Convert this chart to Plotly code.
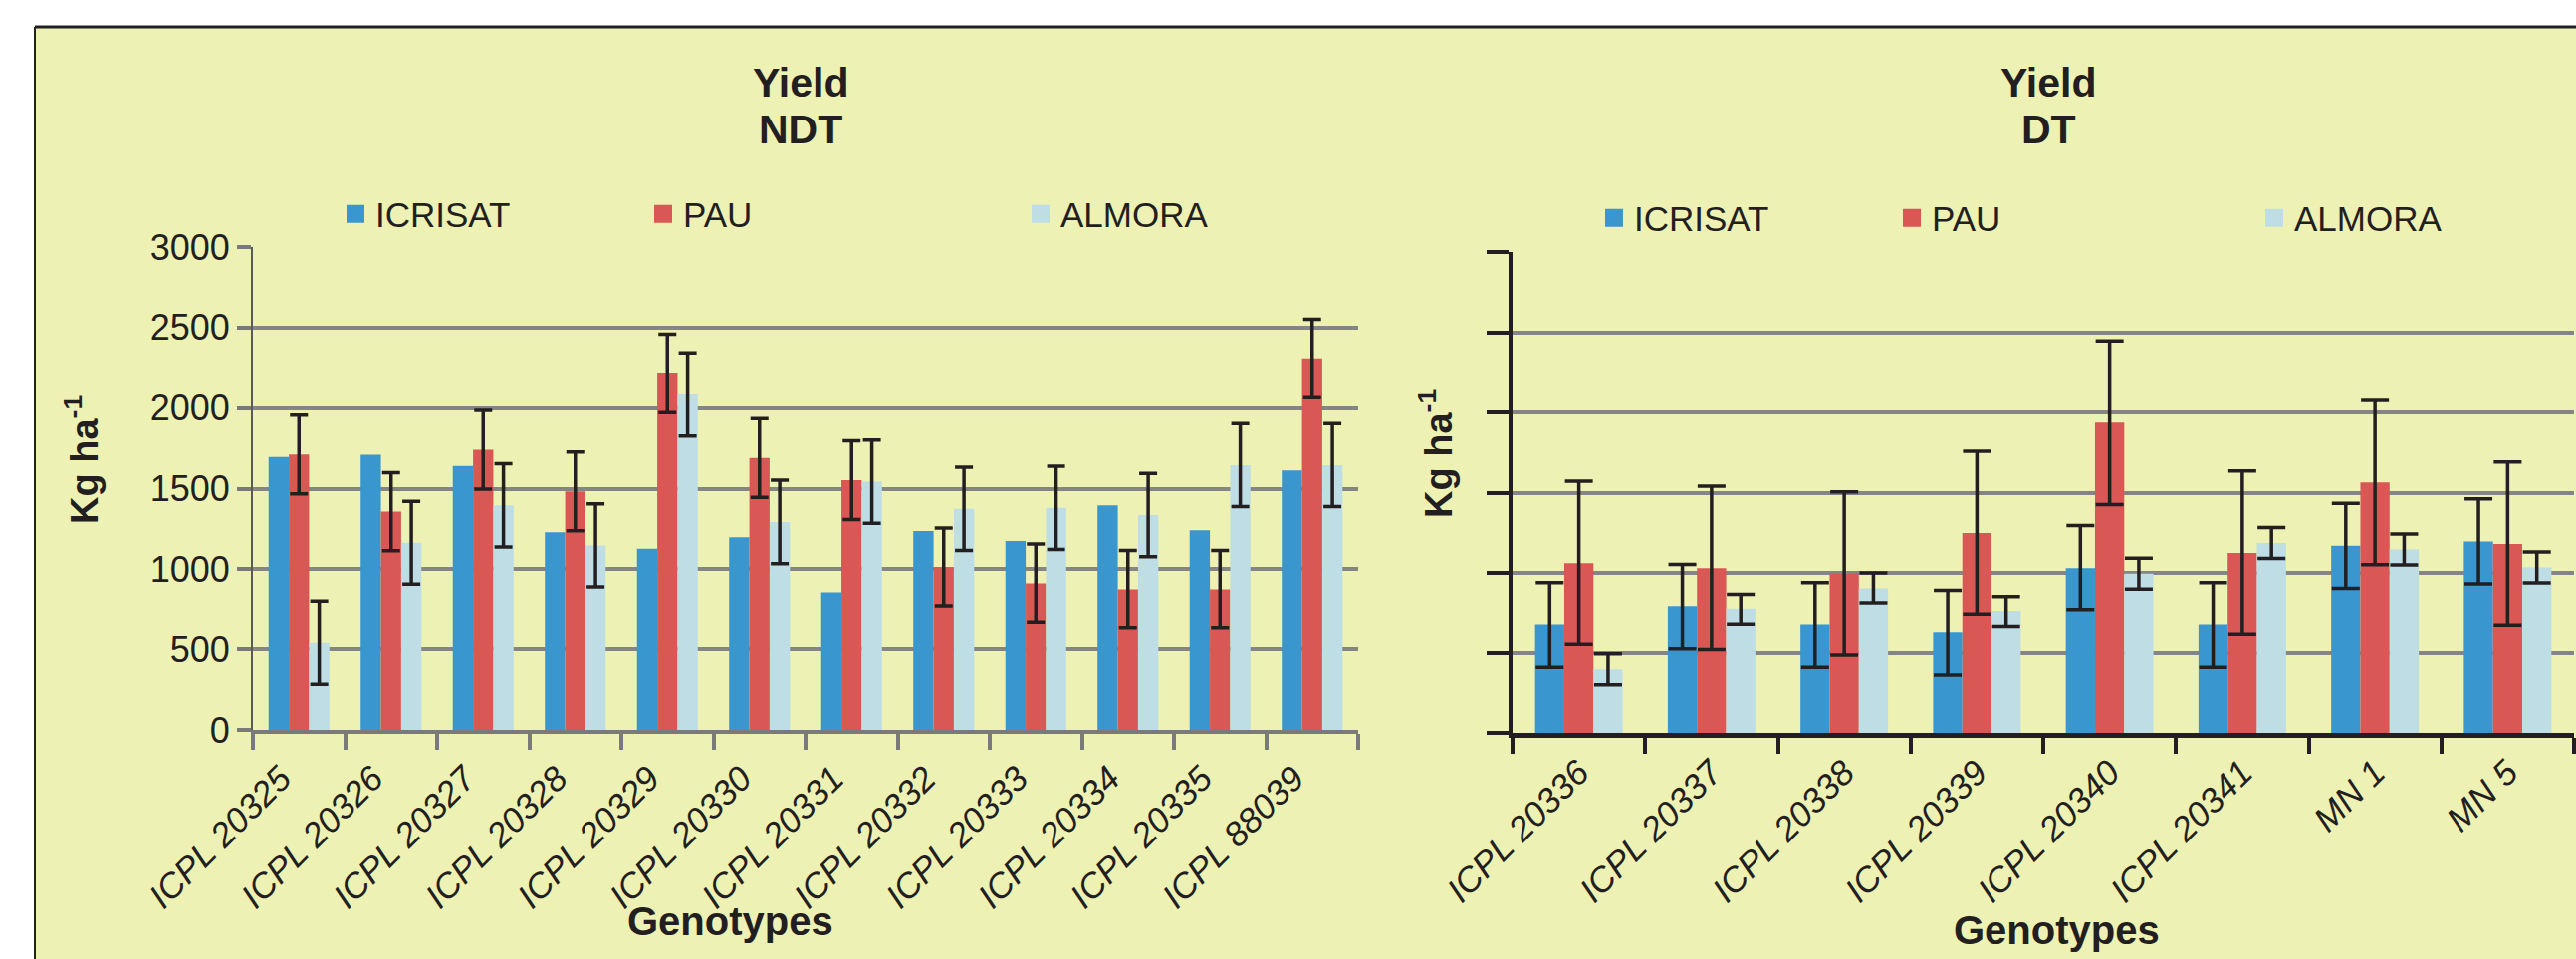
import numpy as np
import plotly.graph_objects as go

W, H = 2587, 963

# ---------------- data ----------------
series_names = ["ICRISAT", "PAU", "ALMORA"]

ndt_genotypes = ["ICPL 20325", "ICPL 20326", "ICPL 20327", "ICPL 20328", "ICPL 20329", "ICPL 20330",
                 "ICPL 20331", "ICPL 20332", "ICPL 20333", "ICPL 20334", "ICPL 20335", "ICPL 88039"]
ndt_icrisat = [1696, 1710, 1640, 1230, 1127, 1199, 856, 1237, 1175, 1396, 1241, 1613]
ndt_pau = [1712, 1357, 1741, 1483, 2215, 1690, 1553, 1011, 912, 875, 875, 2308]
ndt_almora = [540, 1164, 1396, 1148, 2085, 1293, 1543, 1375, 1381, 1336, 1646, 1646]
ndt_pau_err = [244, 242, 244, 244, 244, 244, 244, 244, 245, 242, 242, 244]
ndt_almora_err = [257, 257, 258, 258, 258, 259, 258, 258, 258, 258, 258, 258]

dt_genotypes = ["ICPL 20336", "ICPL 20337", "ICPL 20338", "ICPL 20339", "ICPL 20340", "ICPL 20341",
                "MN 1", "MN 5"]
dt_icrisat = [674, 788, 674, 626, 1030, 674, 1169, 1196]
dt_pau = [1061, 1030, 995, 1248, 1936, 1124, 1563, 1180]
dt_almora = [396, 771, 904, 757, 995, 1186, 1146, 1034]
dt_icrisat_err = [265, 265, 266, 265, 265, 265, 265, 265]
dt_pau_err = [510, 511, 510, 510, 510, 511, 511, 511]
dt_almora_err = [96, 96, 96, 96, 96, 96, 96, 96]

y_ticks = [0, 500, 1000, 1500, 2000, 2500, 3000]

# ---------------- style ----------------
BG = "#EDF1B3"
COLORS = ["#3A96CE", "#D95755", "#BEDDE4"]
FONT = "Arial, Liberation Sans, sans-serif"
INK = "#231F20"
GRID = "#858585"

fig = go.Figure()


def err(vals, halfcap):
    if vals is None:
        return None
    return dict(type="data", array=vals, visible=True, color=INK, thickness=3.5, width=halfcap)


left = [(ndt_icrisat, None), (ndt_pau, ndt_pau_err), (ndt_almora, ndt_almora_err)]
for (vals, e), c, n in zip(left, COLORS, series_names):
    fig.add_trace(go.Bar(x=ndt_genotypes, y=vals, name=n, marker=dict(color=c, line=dict(width=0)),
                         error_y=err(e, 9), xaxis="x", yaxis="y", showlegend=False))

right = [(dt_icrisat, dt_icrisat_err), (dt_pau, dt_pau_err), (dt_almora, dt_almora_err)]
for (vals, e), c, n in zip(right, COLORS, series_names):
    fig.add_trace(go.Bar(x=dt_genotypes, y=vals, name=n, marker=dict(color=c, line=dict(width=0)),
                         error_y=err(e, 14), xaxis="x2", yaxis="y2", showlegend=False))

# legend proxies (each entry in its own legend so it can be placed like the original)
legend_ids = ["legend", "legend2", "legend3", "legend4", "legend5", "legend6"]
for i, lid in enumerate(legend_ids):
    c = COLORS[i % 3]
    fig.add_trace(go.Scatter(x=[None], y=[None], mode="markers", name=series_names[i % 3],
                             marker=dict(symbol="square", size=16, color=c, line=dict(width=2, color=c)),
                             legend=lid, xaxis="x" if i < 3 else "x2", yaxis="y" if i < 3 else "y2",
                             hoverinfo="skip"))

legend_px = [(357, 215), (666, 215), (1045, 215), (1621, 219), (1920, 219), (2284, 219)]
for lid, (px, py) in zip(legend_ids, legend_px):
    fig.update_layout({lid: dict(x=(px - 20) / W, y=(H - py) / H, xanchor="left", yanchor="middle",
                                 orientation="h", bgcolor="rgba(0,0,0,0)", borderwidth=0,
                                 font=dict(family=FONT, size=35, color=INK))})

x_common = dict(type="category", tickson="boundaries", ticks="outside", ticklen=16, tickwidth=4,
                tickangle=-45, showgrid=False, zeroline=False, automargin=False,
                tickfont=dict(family=FONT, size=35, color=INK, style="italic"))
y_common = dict(range=[0, 3000], tickvals=y_ticks, showgrid=True, gridcolor=GRID, gridwidth=4,
                zeroline=False, ticks="outside", tickwidth=4, automargin=False)

fig.update_layout(
    width=W, height=H, autosize=False,
    margin=dict(l=0, r=0, t=0, b=0, pad=0, autoexpand=False),
    paper_bgcolor="white", plot_bgcolor="rgba(0,0,0,0)",
    barmode="group", bargap=0.34, bargroupgap=0,
    font=dict(family=FONT, color=INK),
    xaxis=dict(domain=[254 / W, 1364 / W], anchor="y", tickcolor="#7a7a7a",
               showline=True, linecolor="#7a7a7a", linewidth=4,
               ticklabelstandoff=10, ticklabelshift=-18, **x_common),
    yaxis=dict(domain=[(H - 733) / H, (H - 248) / H], anchor="x", ticklen=14, tickcolor="#7a7a7a",
               showline=True, linecolor="#5a5a5a", linewidth=2, showticklabels=True,
               tickfont=dict(family=FONT, size=36, color=INK), **y_common),
    xaxis2=dict(domain=[1519 / W, 2585 / W], anchor="y2", tickcolor=INK,
                showline=True, linecolor=INK, linewidth=5, **x_common),
    yaxis2=dict(domain=[(H - 736) / H, (H - 253) / H], anchor="x2", ticklen=22, tickcolor=INK,
                showline=True, linecolor=INK, linewidth=4, showticklabels=False, **y_common),
    xaxis3=dict(overlaying="x", anchor="y", range=[-0.5, len(ndt_genotypes) - 0.5],
                tickvals=list(np.arange(len(ndt_genotypes) + 1) - 0.5), ticks="inside", ticklen=16,
                tickwidth=4, tickcolor="#7a7a7a", showticklabels=False, showgrid=False,
                zeroline=False, showline=False, automargin=False),
    xaxis4=dict(overlaying="x2", anchor="y2", range=[-0.5, len(dt_genotypes) - 0.5],
                tickvals=list(np.arange(len(dt_genotypes) + 1) - 0.5), ticks="inside", ticklen=16,
                tickwidth=4, tickcolor=INK, showticklabels=False, showgrid=False,
                zeroline=False, showline=False, automargin=False),
)

# background frame
fig.add_shape(type="rect", xref="paper", yref="paper", x0=35 / W, x1=1, y0=0, y1=(H - 27) / H,
              fillcolor=BG, line=dict(width=0), layer="below")
fig.add_shape(type="line", xref="paper", yref="paper", x0=35 / W, x1=1, y0=(H - 27) / H, y1=(H - 27) / H,
              line=dict(color=INK, width=3))
fig.add_shape(type="line", xref="paper", yref="paper", x0=35 / W, x1=35 / W, y0=0, y1=(H - 27) / H,
              line=dict(color=INK, width=2))

ann = [
    dict(text="<b>Yield</b>", x=804 / W, y=(H - 83) / H, size=41, angle=0),
    dict(text="<b>NDT</b>", x=804 / W, y=(H - 130) / H, size=41, angle=0),
    dict(text="<b>Yield</b>", x=2057 / W, y=(H - 83) / H, size=41, angle=0),
    dict(text="<b>DT</b>", x=2057 / W, y=(H - 130) / H, size=41, angle=0),
    dict(text="<b>Kg ha<sup>-1</sup></b>", x=82 / W, y=(H - 462) / H, size=38, angle=-90),
    dict(text="<b>Kg ha<sup>-1</sup></b>", x=1442 / W, y=(H - 456) / H, size=38, angle=-90),
    dict(text="<b>Genotypes</b>", x=733 / W, y=(H - 925) / H, size=40, angle=0),
    dict(text="<b>Genotypes</b>", x=2065 / W, y=(H - 934) / H, size=40, angle=0),
]
for a in ann:
    fig.add_annotation(text=a["text"], x=a["x"], y=a["y"], xref="paper", yref="paper",
                       xanchor="center", yanchor="middle", showarrow=False, textangle=a["angle"],
                       font=dict(family=FONT, size=a["size"], color=INK))

fig.write_html("out.html", config={"displayModeBar": False},
               post_script="document.body.style.margin='0px';")
